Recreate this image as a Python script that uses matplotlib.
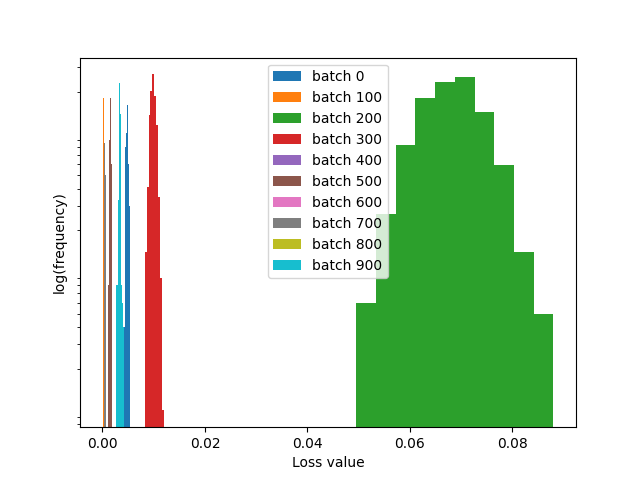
import matplotlib
matplotlib.use('Agg')
import matplotlib.pyplot as plt
import numpy as np

# Batches shown in the legend
batches = [0, 100, 200, 300, 400, 500, 600, 700, 800, 900]

# Range of loss values (first and last bin edge) for each batch, 10 bins each
loss_min = [0.00428, 0.00002, 0.0495, 0.00825, 0.00116,
            0.00116, 0.00026, 0.00026, 0.00271, 0.00271]
loss_max = [0.00535, 0.00026, 0.0880, 0.01196, 0.00194,
            0.00194, 0.00068, 0.00068, 0.00413, 0.00413]

# Counts per bin
counts_0 = [4, 11, 80, 101, 188, 160, 146, 60, 38, 30]
counts_100 = [150, 220, 220, 220, 220, 220, 220, 180, 90, 40]
counts_200 = [6, 26, 82, 180, 237, 256, 142, 59, 14, 5]
counts_300 = [14, 41, 135, 203, 267, 186, 116, 35, 9, 1]
counts_400 = [5, 6, 60, 100, 100, 120, 110, 40, 5, 5]
counts_500 = [8, 8, 90, 140, 130, 180, 170, 60, 8, 8]
counts_600 = [50, 60, 55, 50, 40, 35, 30, 25, 15, 8]
counts_700 = [92, 92, 90, 85, 80, 66, 66, 60, 50, 30]
counts_800 = [4, 6, 25, 150, 180, 110, 50, 5, 4, 1]
counts_900 = [8, 8, 33, 197, 232, 138, 62, 8, 6, 4]

all_counts = [counts_0, counts_100, counts_200, counts_300, counts_400,
              counts_500, counts_600, counts_700, counts_800, counts_900]

fig, ax = plt.subplots(figsize=(6.4, 4.8), dpi=100)

for b, lo, hi, cnt in zip(batches, loss_min, loss_max, all_counts):
    edges = np.linspace(lo, hi, len(cnt) + 1)
    centers = (edges[:-1] + edges[1:]) / 2
    ax.hist(centers, bins=edges, weights=cnt, log=True, label=f'batch {b}')

ax.set_xlabel('Loss value')
ax.set_ylabel('log(frequency)')
ax.set_yticks([])
ax.legend(loc='upper center')

plt.savefig('out.png', dpi=100)
